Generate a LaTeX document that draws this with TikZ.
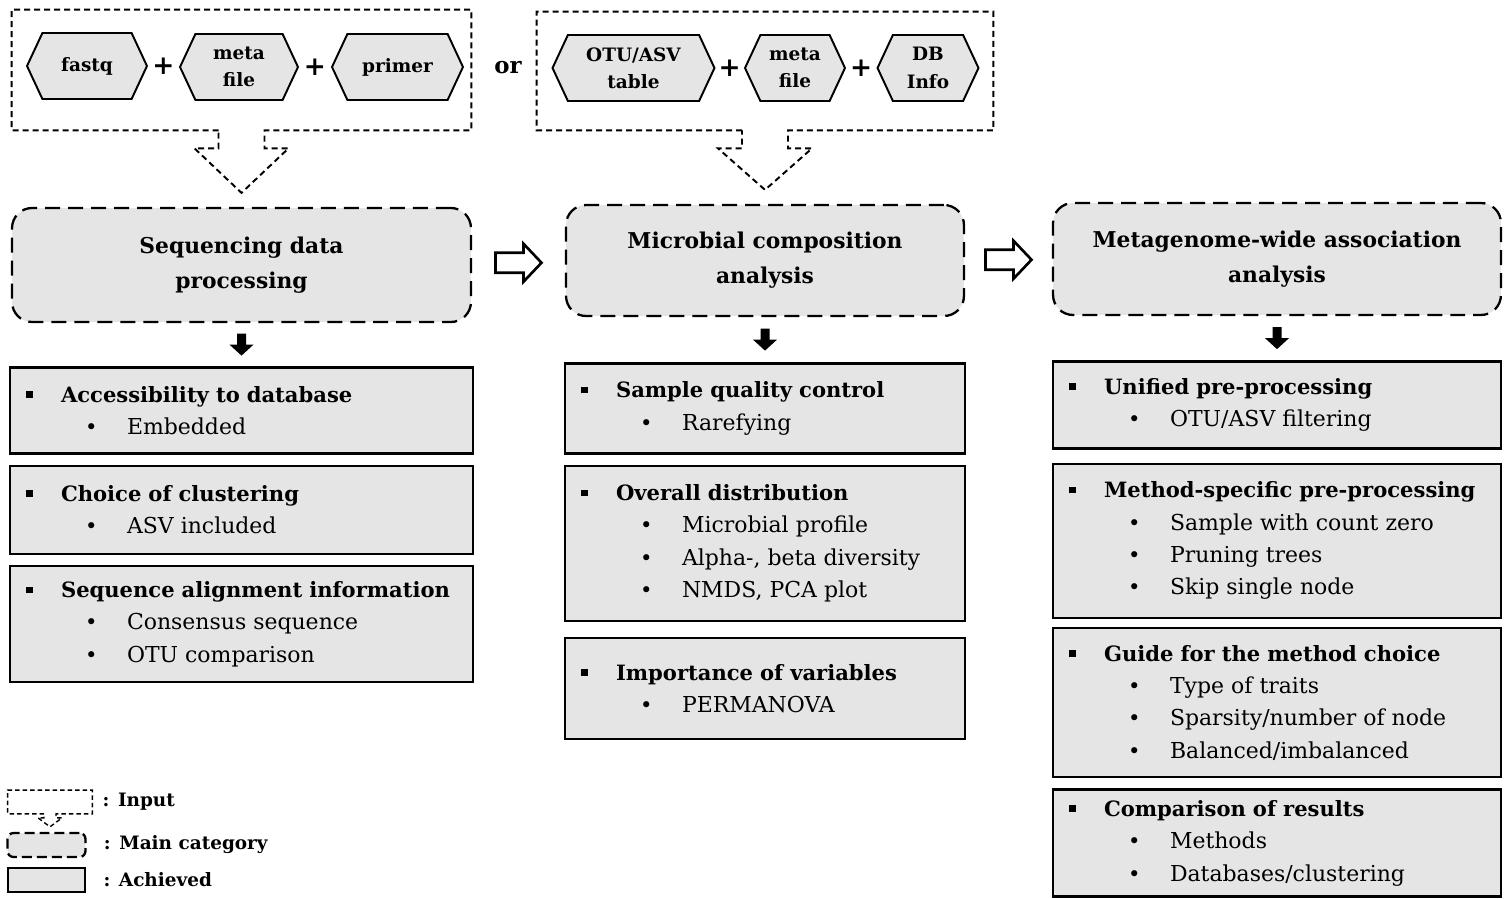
\documentclass[tikz,border=0pt]{standalone}
\usepackage{fontspec}
\setmainfont{DejaVu Serif}
\usetikzlibrary{positioning,calc,shapes.symbols}

\newcommand{\hdline}[1]{\makebox[0.7cm][l]{\rule[0.09cm]{0.13cm}{0.13cm}}\textbf{#1}}
\newcommand{\subline}[1]{\hspace*{1.18cm}\makebox[0.84cm][l]{\textbullet}{\fontsize{12.5}{18.4}\selectfont #1}}

\tikzset{
  inbox/.style={draw, dash pattern=on 0.12cm off 0.08cm, line width=1.1pt},
  hexa/.style={signal, signal to=west and east, signal pointer angle=130, draw, line width=1.1pt,
    fill=black!10, minimum height=1.32cm, inner sep=0pt, align=center,
    font=\fontsize{10.5}{15.5}\selectfont\bfseries},
  plus/.style={font=\fontsize{15}{15}\selectfont\bfseries, inner sep=0pt},
  main/.style={draw, rounded corners=0.4cm, dash pattern=on 0.3cm off 0.16cm, line width=1.3pt,
    fill=black!10, align=center, font=\fontsize{12.4}{20}\selectfont\bfseries},
  done/.style={draw, line width=1.4pt, fill=black!10, inner xsep=0.32cm, inner ysep=0pt,
    align=left, font=\fontsize{12}{18.4}\selectfont},
  legtext/.style={font=\fontsize{10.5}{14}\selectfont\bfseries, inner sep=0pt, anchor=west},
  hollow/.pic={\draw[line width=1.5pt, fill=white] (-23,-10) -- (5,-10) -- (5,-19) -- (23,0)
    -- (5,19) -- (5,10) -- (-23,10) -- cycle;},
  down/.pic={\fill (-4.5,-11) -- (4.5,-11) -- (4.5,0) -- (12,0) -- (0,11) -- (-12,0)
    -- (-4.5,0) -- cycle;},
}

\begin{document}
\begin{tikzpicture}[x=0.02cm, y=-0.02cm]
\useasboundingbox (0,0) rectangle (1505,899);

% input groups
\node[minimum width=9.18cm, minimum height=2.4cm] (in1) at (241.5,70) {};
\node[minimum width=9.12cm, minimum height=2.36cm] (in2) at (765,71) {};

\node[hexa, minimum width=2.4cm] (fastq) at (87,66) {fastq};
\node[hexa, minimum width=2.36cm] (meta1) at (239,67) {meta\\file};
\node[hexa, minimum width=2.62cm] (primer) at (397.5,67) {primer};
\node[hexa, minimum width=3.24cm] (otu) at (633.5,68) {OTU/ASV\\table};
\node[hexa, minimum width=2.0cm] (meta2) at (795,68) {meta\\file};
\node[hexa, minimum width=2.02cm] (db) at (928,68) {DB\\Info};

\node[plus] (plus1) at ($(fastq.east)!0.5!(meta1.west)$) {+};
\node[plus] (plus2) at ($(meta1.east)!0.5!(primer.west)$) {+};
\node[plus] (plus3) at ($(otu.east)!0.5!(meta2.west)$) {+};
\node[plus] (plus4) at ($(meta2.east)!0.5!(db.west)$) {+};

\node[font=\fontsize{13}{15}\selectfont\bfseries] (or) at (508,68) {or};

% main categories
\node[main, minimum width=9.18cm, minimum height=2.28cm] (seq) at (241.5,265) {Sequencing data\\processing};
\node[main, minimum width=7.96cm, minimum height=2.22cm] (comp) at (765,260.5) {Microbial composition\\analysis};
\node[main, minimum width=8.96cm, minimum height=2.24cm] (mwas) at (1277,259) {Metagenome-wide association\\analysis};

\foreach \i/\m in {in1/seq, in2/comp}
  \draw[inbox] ($(\i.south)+(-23,0)$) -| (\i.north west) -| (\i.south east)
    -- ($(\i.south)+(23,0)$) -- ++(0,18) -- ++(24,0) -- ($(\m.north)+(0,-14)$)
    -- ($(\i.south)+(-47,18)$) -- ++(24,0) -- cycle;

\pic at ($(seq.east)!0.5!(comp.west)$) {hollow};
\pic at ($(comp.east)!0.5!(mwas.west)$) {hollow};

% achieved
\node[done, text width=8.62cm, minimum height=1.72cm, below=0.86cm of seq] (acc)
  {\hdline{Accessibility to database}\\\subline{Embedded}};
\node[done, text width=8.62cm, minimum height=1.76cm, below=0.2cm of acc] (clus)
  {\hdline{Choice of clustering}\\\subline{ASV included}};
\node[done, text width=8.62cm, minimum height=2.32cm, below=0.2cm of clus] (align)
  {\hdline{Sequence alignment information}\\\subline{Consensus sequence}\\\subline{OTU comparison}};

\node[done, text width=7.36cm, minimum height=1.8cm, below=0.9cm of comp] (qc)
  {\hdline{Sample quality control}\\\subline{Rarefying}};
\node[done, text width=7.36cm, minimum height=3.1cm, below=0.2cm of qc] (dist)
  {\hdline{Overall distribution}\\\subline{Microbial profile}\\\subline{Alpha-, beta diversity}\\\subline{NMDS, PCA plot}};
\node[done, text width=7.36cm, minimum height=2.02cm, below=0.3cm of dist] (imp)
  {\hdline{Importance of variables}\\\subline{PERMANOVA}};

\node[done, text width=8.32cm, minimum height=1.74cm, below=0.88cm of mwas] (unif)
  {\hdline{Unified pre-processing}\\\subline{OTU/ASV filtering}};
\node[done, text width=8.32cm, minimum height=3.08cm, below=0.26cm of unif] (spec)
  {\hdline{Method-specific pre-processing}\\\subline{Sample with count zero}\\\subline{Pruning trees}\\\subline{Skip single node}};
\node[done, text width=8.32cm, minimum height=2.98cm, below=0.16cm of spec] (guide)
  {\hdline{Guide for the method choice}\\\subline{Type of traits}\\\subline{Sparsity/number of node}\\\subline{Balanced/imbalanced}};
\node[done, text width=8.32cm, minimum height=2.14cm, below=0.2cm of guide] (res)
  {\hdline{Comparison of results}\\\subline{Methods}\\\subline{Databases/clustering}};

\pic at ($(seq.south)!0.5!(acc.north)$) {down};
\pic at ($(comp.south)!0.5!(qc.north)$) {down};
\pic at ($(mwas.south)!0.5!(unif.north)$) {down};

% legend
\node[minimum width=1.68cm, minimum height=0.46cm, inner sep=0pt] (legin) at (50,802) {};
\draw[inbox, line width=0.8pt, dash pattern=on 0.09cm off 0.06cm] ($(legin.south)+(-6,0)$) -| (legin.north west) -| (legin.south east)
  -- ($(legin.south)+(6,0)$) -- ++(0,4) -- ++(6,0) -- ($(legin.south)+(0,13)$)
  -- ($(legin.south)+(-12,4)$) -- ++(6,0) -- cycle;
\node[main, minimum width=1.56cm, minimum height=0.48cm, inner sep=0pt, rounded corners=0.12cm,
  dash pattern=on 0.2cm off 0.1cm] (legmain) at (46.5,845) {};
\node[done, minimum width=1.54cm, minimum height=0.48cm, inner sep=0pt] (legdone) at (46.5,880) {};

\node[legtext, right=0.2cm of legin] (tin) {: Input};
\node[legtext, right=0.34cm of legmain] (tmain) {: Main category};
\node[legtext, right=0.34cm of legdone] (tdone) {: Achieved};
\end{tikzpicture}
\end{document}
